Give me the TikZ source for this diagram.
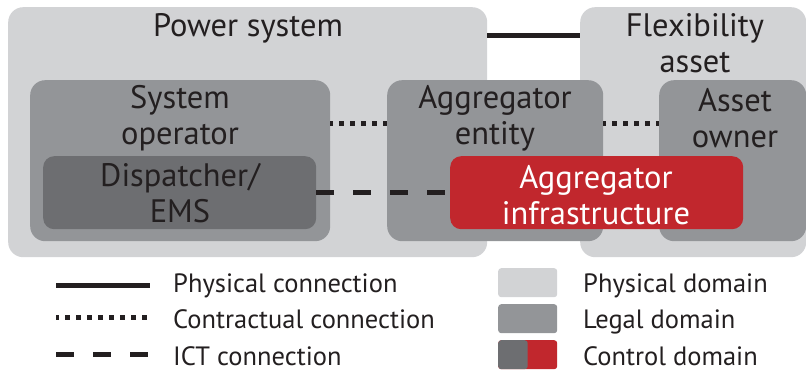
\documentclass[tikz,border=0pt]{standalone}
\usepackage{fontspec}
\setmainfont{PT Sans}
\usepackage{tikz}
\usetikzlibrary{positioning}
\definecolor{physgray}{RGB}{210,211,213}
\definecolor{legalgray}{RGB}{147,149,152}
\definecolor{ctrlgray}{RGB}{109,110,113}
\definecolor{ctrlred}{RGB}{193,39,45}
\definecolor{ink}{RGB}{35,31,32}

\begin{document}
\begin{tikzpicture}[
  x=1pt, y=-1pt,
  every node/.style={
    inner sep=0pt,
    align=center,
    text=ink,
    font=\fontsize{32.5}{36}\selectfont
  },
  physbox/.style={rectangle, rounded corners=15pt, fill=physgray, anchor=north west},
  legalbox/.style={rectangle, rounded corners=15pt, fill=legalgray, anchor=north west},
  ctrlbox/.style={rectangle, rounded corners=11pt, anchor=north west},
  swatch/.style={rectangle, rounded corners=3pt, anchor=north west,
    minimum width=59pt, minimum height=29pt},
  legend/.style={anchor=base west, font=\fontsize{26.5}{30}\selectfont},
  physline/.style={draw=ink, line width=5pt},
  contract/.style={draw=ink, line width=5pt, dash pattern=on 5pt off 6pt, dash phase=2pt},
  ict/.style={draw=ink, line width=5pt, dash pattern=on 18pt off 19pt}
]
\useasboundingbox (0,0) rectangle (806,372);

% domains
\node[physbox, minimum width=479pt, minimum height=250pt] (ps) at (8,7) {};
\node[physbox, minimum width=226pt, minimum height=250pt] (fa) at (580,7) {};
\node[legalbox, minimum width=300pt, minimum height=161pt] (so) at (30,80) {};
\node[legalbox, minimum width=216pt, minimum height=161pt] (ae) at (387,80) {};
\node[legalbox, minimum width=147pt, minimum height=161pt] (ao) at (659,80) {};
\node[ctrlbox, fill=ctrlgray, minimum width=273pt, minimum height=73pt] (ems) at (43,156) {};

% connections
\draw[physline] ([yshift=-28pt]ps.north east) -- ([yshift=-28pt]fa.north west);
\draw[contract] ([yshift=-43pt]so.north east) -- ([yshift=-43pt]ae.north west);
\draw[contract] ([yshift=-43pt]ae.north east) -- ([yshift=-43pt]ao.north west);
\draw[ict] (ems.east) -- (ems.east -| 450,0);

\node[ctrlbox, fill=ctrlred, minimum width=293pt, minimum height=73pt] (ai) at (450,156) {};

% labels
\node[anchor=base] (pslab) at (248,36) {Power system};
\node (falab) at (695,43) {Flexibility\\asset};
\node (solab) at (180,118) {System\\operator};
\node (aelab) at (495,118) {Aggregator\\entity};
\node (aolab) at (735,118) {Asset\\owner};
\node (emslab) at (180,193) {Dispatcher/\\EMS};
\node[text=white] (ailab) at (596,195) {Aggregator\\infrastructure};

% legend
\node[legend] (lgphys) at (173,292) {Physical connection};
\node[legend] (lgcontr) at (173,328) {Contractual connection};
\node[legend] (lgict) at (173,365) {ICT connection};
\draw[physline] ([shift={(-117pt,7pt)}]lgphys.base west) -- ([shift={(-23pt,7pt)}]lgphys.base west);
\draw[contract] ([shift={(-117pt,11pt)}]lgcontr.base west) -- ([shift={(-23pt,11pt)}]lgcontr.base west);
\draw[ict, dash phase=0pt] ([shift={(-117pt,11pt)}]lgict.base west) -- ([shift={(-23pt,11pt)}]lgict.base west);

\node[swatch, fill=physgray] (swphys) at (498,268) {};
\node[swatch, fill=legalgray] (swlegal) at (498,304) {};
\node[swatch, fill=ctrlred, path picture={
  \fill[ctrlgray] (path picture bounding box.south west) rectangle (path picture bounding box.north);
}] (swctrl) at (498,340) {};
\node[legend] (lgpd) at (583,292) {Physical domain};
\node[legend] (lgld) at (583,328) {Legal domain};
\node[legend] (lgcd) at (583,365) {Control domain};
\end{tikzpicture}
\end{document}
